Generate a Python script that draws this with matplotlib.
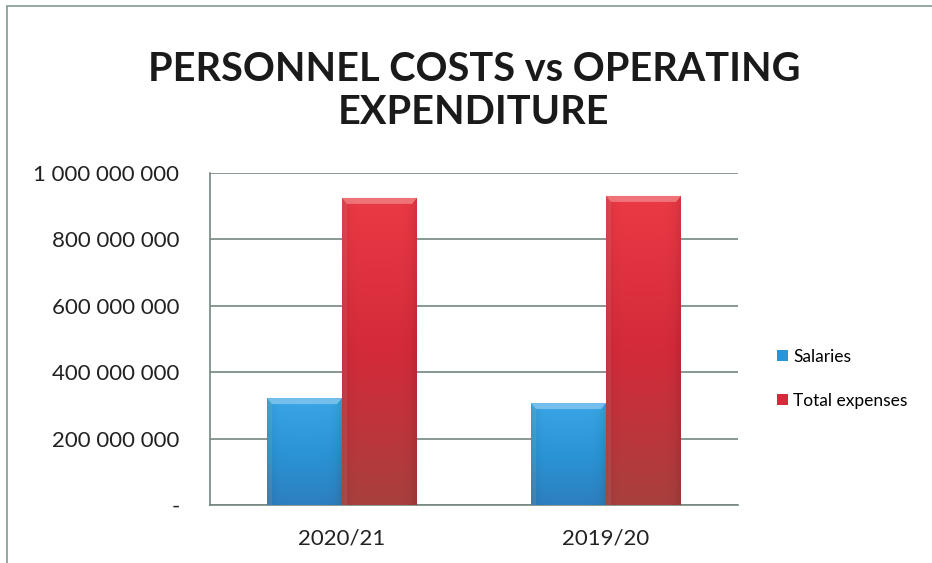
import numpy as np
import matplotlib
matplotlib.use("Agg")
import matplotlib.pyplot as plt
from matplotlib.patches import Polygon, Rectangle
from matplotlib.ticker import FuncFormatter, MultipleLocator
from matplotlib.colors import to_rgb

plt.rcParams["font.family"] = ["Lato", "DejaVu Sans"]

# Chart data
years = ["2020/21", "2019/20"]
salaries = [322_000_000, 307_000_000]
total_expenses = [925_000_000, 931_000_000]
series_names = ["Salaries", "Total expenses"]

BLUE = ("#3aa6e6", "#2a95d6", "#2d7fc0")
RED = ("#ea3a45", "#d42a39", "#a8403e")
BEVEL = {"Salaries": "#7cc3ef", "Total expenses": "#f07a7e"}
GRID = "#74887e"

fig = plt.figure(figsize=(9.32, 5.63), dpi=100)
fig.patch.set_facecolor("white")

# outer chart frame (only top and left edges fall inside the canvas)
fig.patches.append(Rectangle((7 / 932, -0.1), 1.2, 1 - 6 / 563 + 0.1,
                             transform=fig.transFigure, fill=False,
                             edgecolor="#7f9a90", linewidth=1.2))

ax = fig.add_axes([210 / 932, 58 / 563, 528 / 932, 332 / 563])

x = np.arange(len(years))
width = 0.284


def gradient_image(colors, rows=200, cols=60):
    """Vertical top -> mid -> bottom blend with slightly darker side edges."""
    top, mid, bottom = (np.array(to_rgb(c)) for c in colors)
    vert = np.empty((rows, 3))
    for i, tv in enumerate(np.linspace(0, 1, rows)):
        if tv < 0.5:
            vert[i] = top + (mid - top) * (tv / 0.5)
        else:
            vert[i] = mid + (bottom - mid) * ((tv - 0.5) / 0.5)
    s = np.linspace(-1, 1, cols)
    shade = 1 - 0.10 * np.abs(s) ** 6
    img = vert[:, None, :] * shade[None, :, None]
    return np.clip(img, 0, 1)


def draw_bars(offset, values, colors, label):
    bars = ax.bar(x + offset, values, width, color=colors[1], label=label,
                  zorder=3, linewidth=0)
    img = gradient_image(colors)
    px_x = 264.0
    px_y = 332 / 1e9
    for bar in bars:
        bx, by = bar.get_x(), bar.get_y()
        bw, bh = bar.get_width(), bar.get_height()
        im = ax.imshow(img, extent=(bx, bx + bw, by, by + bh), aspect="auto",
                       origin="upper", zorder=4, interpolation="bilinear")
        im.set_clip_path(bar)
        # bevelled top edge
        dx = 5 / px_x
        dy = 6 / px_y
        top = by + bh
        ax.add_patch(Polygon([(bx, top), (bx + bw, top),
                              (bx + bw - dx, top - dy), (bx + dx, top - dy)],
                             closed=True, facecolor=BEVEL[label],
                             edgecolor="none", zorder=5, alpha=0.9))
        ax.add_patch(Polygon([(bx, top), (bx + dx, top - dy),
                              (bx + dx, by), (bx, by)],
                             closed=True, facecolor="white", alpha=0.08,
                             edgecolor="none", zorder=5))
    return bars


salary_bars = draw_bars(-width / 2, salaries, BLUE, series_names[0])
total_bars = draw_bars(width / 2, total_expenses, RED, series_names[1])

ax.set_xlim(-0.5, len(years) - 0.5)
ax.set_ylim(0, 1_000_000_000)
ax.set_xticks(x)
ax.set_xticklabels(years)
ax.yaxis.set_major_locator(MultipleLocator(200_000_000))


def money(value, _pos):
    if value == 0:
        return "-"
    return f"{int(value):,}".replace(",", " ")


ax.yaxis.set_major_formatter(FuncFormatter(money))
ax.tick_params(axis="both", length=0, labelsize=16, colors="#222222")
ax.tick_params(axis="y", pad=22)
ax.tick_params(axis="x", pad=17)

ax.grid(axis="y", color=GRID, linewidth=1.2, zorder=1)
ax.set_axisbelow(True)
for side in ("top", "right"):
    ax.spines[side].set_visible(False)
for side in ("left", "bottom"):
    ax.spines[side].set_color(GRID)
    ax.spines[side].set_linewidth(1.2)

fig.text(474 / 932, 1 - 91 / 563, "PERSONNEL COSTS vs OPERATING\nEXPENDITURE",
         ha="center", va="center", fontsize=28.5, fontweight="bold",
         color="#1a1a1a", linespacing=1.2)

legend = ax.legend(loc="center left", bbox_to_anchor=(1.045, 0.38), frameon=False,
                   fontsize=12.5, handlelength=0.6, handleheight=0.6,
                   handletextpad=0.3, labelspacing=1.6)
for handle, colors in zip(legend.legend_handles, (BLUE, RED)):
    handle.set_facecolor(colors[1])
    handle.set_edgecolor(colors[2])

fig.savefig("out.png", dpi=100, facecolor="white")
